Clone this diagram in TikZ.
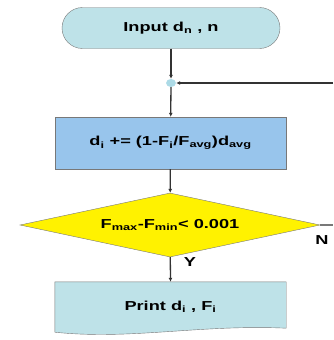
\documentclass[tikz,border=0pt]{standalone}
\usepackage{fontspec}
\setmainfont{Liberation Sans}
\newfontfamily\flowfont[FakeStretch=1.4]{Liberation Sans}
\usetikzlibrary{shapes.geometric}
\usetikzlibrary{arrows.meta}
\usetikzlibrary{calc}
\definecolor{termblue}{RGB}{190,226,232}
\definecolor{procblue}{RGB}{152,197,236}
\definecolor{dotblue}{RGB}{172,218,230}
\definecolor{edgegray}{RGB}{120,120,120}
\tikzset{
  box/.style = {draw=edgegray, thin, fill=#1, font=\flowfont\bfseries\fontsize{13}{15}\selectfont, inner sep=0pt},
  term/.style = {box={termblue}, rectangle, rounded corners=20.5pt, minimum width=218pt, minimum height=41pt},
  proc/.style = {box={procblue}, rectangle, minimum width=231pt, minimum height=52pt},
  cond/.style = {box={yellow}, diamond, aspect=4.7, minimum width=300pt, minimum height=64pt},
  doc/.style = {box={termblue}, draw=none, fill=none, rectangle, minimum width=231pt, minimum height=50pt},
  junction/.style = {ellipse, fill=dotblue, minimum width=10pt, minimum height=8pt, inner sep=0pt},
  flow/.style = {color=#1, line width=1.3pt, -{Latex[length=4pt,width=4pt]}},
  flowline/.style = {color=#1, line width=1.3pt},
  tag/.style = {font=\flowfont\bfseries\fontsize{13}{15}\selectfont}
}
\begin{document}
\begin{tikzpicture}[x=1pt, y=-1pt]

    \useasboundingbox (0,0) rectangle (333,340);

    % Coordinates
    \coordinate (R1) at (333,83);
    \coordinate (R2) at (333,225);

    % Nodes
    \node[term] (input) at (171,28) {Input d\textsubscript{n} , n};
    \node[junction] (J) at (171,83) {};
    \node[proc] (update) at (170.5,143) {d\textsubscript{i} += (1-F\textsubscript{i}/F\textsubscript{avg})d\textsubscript{avg}};
    \node[cond] (test) at (170,225) {F\textsubscript{max}-F\textsubscript{min}< 0.001};
    \node[doc] (print) at (170.5,307) {};

    % Document shape
    \draw[draw=edgegray, thin, fill=termblue] (print.north west) -- (print.north east)
      -- ($(print.south east)+(0,-4)$)
      .. controls ($(print.south)+(30,-8)$) and ($(print.south)+(-40,8)$) .. (print.south west)
      -- cycle;
    \node[tag] at (print) {Print d\textsubscript{i} , F\textsubscript{i}};

    % Connectors
    \draw[flow={black!80}] (input) -- (J);
    \draw[flow={black!80}] (R1) -- (J);
    \draw[flow={black!80}] (J) -- (update);
    \draw[flow={black!80}] (update) -- (test);
    \draw[flow={black!80}] (test) -- (print.north);
    \draw[flowline={edgegray}] (test.east) -- (R2);

    % Labels
    \node[tag] at (190,262) {Y};
    \node[tag] at (322,240) {N};

\end{tikzpicture}
\end{document}
